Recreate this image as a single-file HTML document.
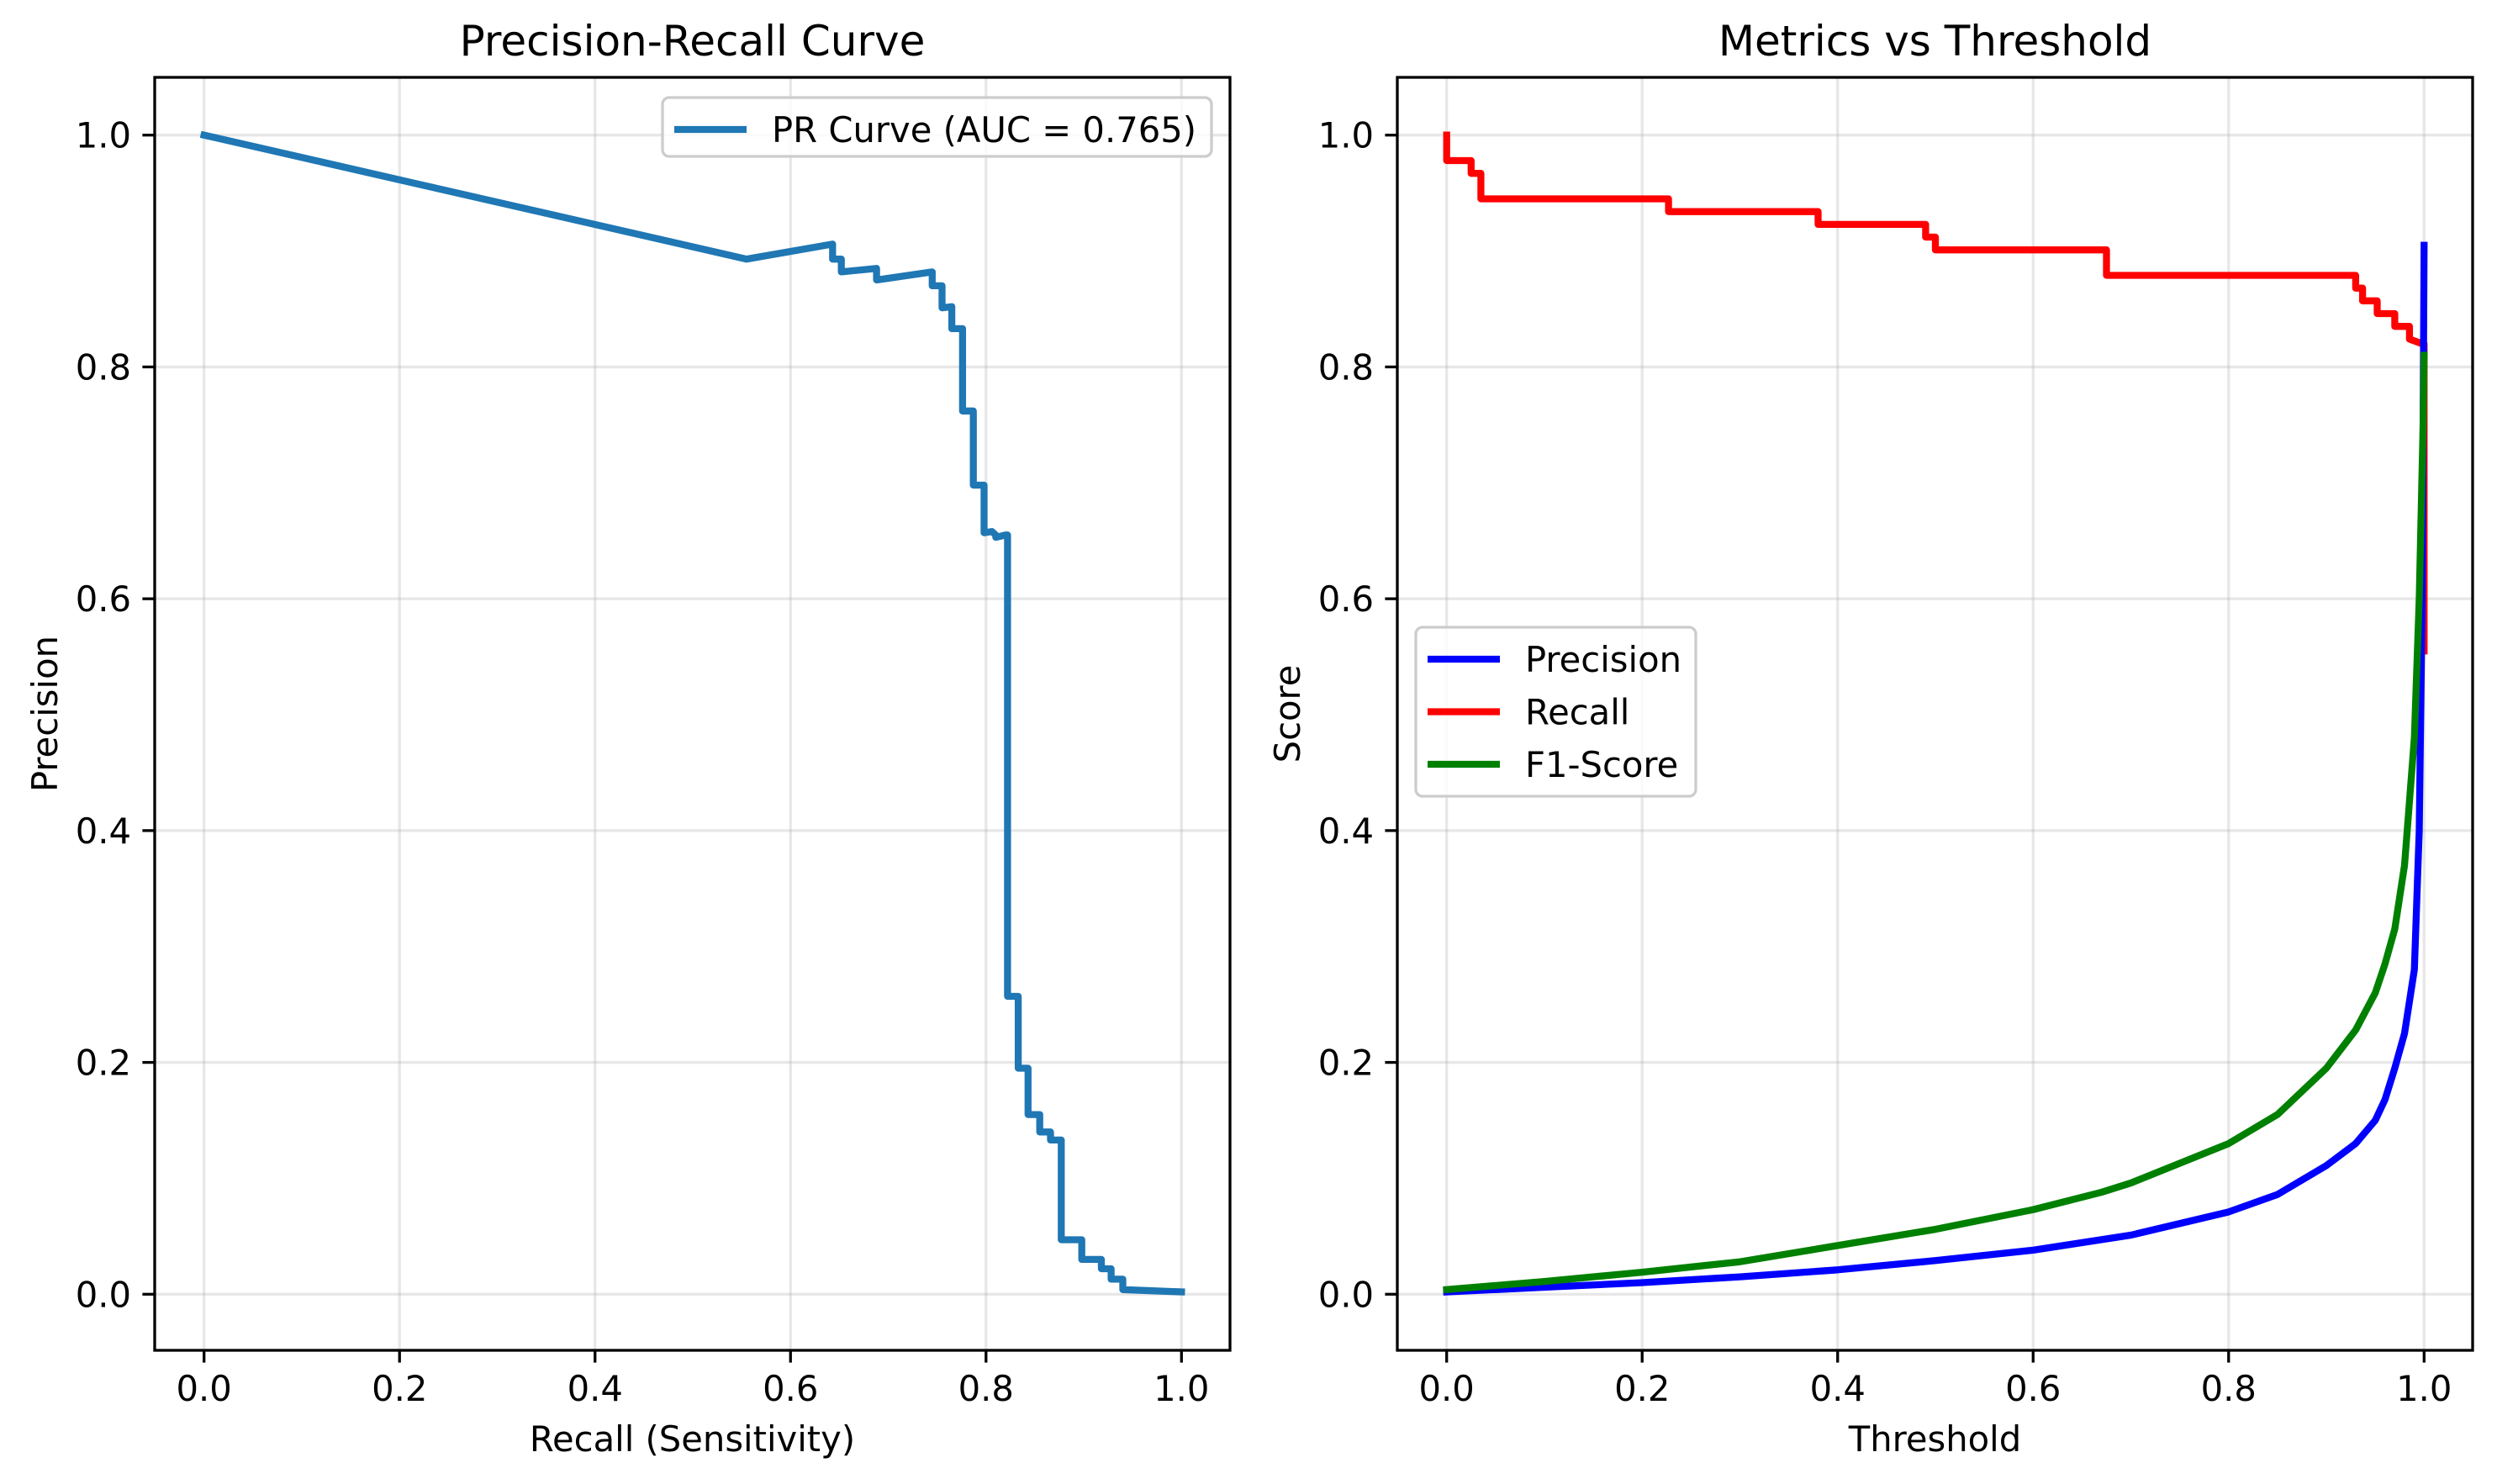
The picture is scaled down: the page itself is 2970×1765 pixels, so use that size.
<!DOCTYPE html>
<html><head><meta charset="utf-8"><style>
html,body{margin:0;padding:0;background:#fff;}
svg{display:block;font-family:"DejaVu Sans","Liberation Sans",sans-serif;}
</style></head><body>
<svg id="fig" width="2970" height="1765" viewBox="0 0 2970 1765" xmlns="http://www.w3.org/2000/svg">
<rect width="2970" height="1765" fill="#fff"/>
<g id="p1"></g>
<g id="p2"></g>
</svg>
<script>
const prRecall=[0,0.555,0.643,0.643,0.652,0.652,0.688,0.688,0.745,0.745,0.755,0.755,0.765,0.765,0.776,0.776,0.787,0.787,0.798,0.798,0.806,0.81,0.81,0.82,0.822,0.822,0.833,0.833,0.843,0.843,0.855,0.855,0.866,0.866,0.877,0.877,0.898,0.898,0.918,0.918,0.928,0.928,0.94,0.94,0.97,1.0];
const prPrecision=[1.0,0.893,0.906,0.893,0.893,0.882,0.885,0.875,0.882,0.870,0.870,0.851,0.852,0.833,0.833,0.762,0.762,0.698,0.698,0.657,0.658,0.655,0.653,0.655,0.655,0.257,0.257,0.195,0.195,0.155,0.155,0.140,0.140,0.133,0.133,0.047,0.047,0.030,0.030,0.022,0.022,0.013,0.013,0.004,0.003,0.002];
const recT=[0,0,0.025,0.025,0.035,0.035,0.227,0.227,0.38,0.38,0.49,0.49,0.5,0.5,0.675,0.675,0.93,0.93,0.937,0.937,0.952,0.952,0.97,0.97,0.985,0.985,0.998,1.0,1.0];
const recV=[1.0,0.978,0.978,0.967,0.967,0.945,0.945,0.934,0.934,0.923,0.923,0.912,0.912,0.901,0.901,0.879,0.879,0.868,0.868,0.857,0.857,0.846,0.846,0.835,0.835,0.824,0.82,0.82,0.555];
const precT=[0,0.1,0.2,0.3,0.4,0.5,0.6,0.7,0.8,0.85,0.9,0.93,0.95,0.96,0.97,0.98,0.99,0.995,0.998,1.0];
const precV=[0.002,0.006,0.010,0.015,0.021,0.029,0.038,0.051,0.071,0.086,0.111,0.130,0.150,0.168,0.195,0.225,0.28,0.40,0.60,0.905];
const f1T=[0,0.1,0.2,0.3,0.4,0.5,0.6,0.67,0.7,0.8,0.85,0.9,0.93,0.95,0.96,0.97,0.98,0.99,0.995,0.999,1.0];
const f1V=[0.004,0.011,0.019,0.028,0.042,0.056,0.073,0.088,0.096,0.130,0.155,0.195,0.228,0.26,0.285,0.315,0.37,0.48,0.60,0.75,0.81];
const ticks=[0,0.2,0.4,0.6,0.8,1.0];
const tickLabels=["0.0","0.2","0.4","0.6","0.8","1.0"];
const NS="http://www.w3.org/2000/svg";
function mk(p,tag,a,txt){const e=document.createElementNS(NS,tag);for(const k in a)e.setAttribute(k,a[k]);if(txt!==undefined)e.textContent=txt;p.appendChild(e);return e;}
function panel(g,L,title,xlab,ylab){
 const R=L+1279,T=92,B=1606;
 const sx=v=>L+58.7+v*1162.6, sy=v=>1539.3-v*1378.6;
 ticks.forEach((t,i)=>{
  let e=mk(g,'line',{x1:sx(t),x2:sx(t),y1:T,y2:B,stroke:'#b0b0b0','stroke-opacity':0.3,'stroke-width':3.3});
  
  e=mk(g,'line',{x1:L,x2:R,y1:sy(t),y2:sy(t),stroke:'#b0b0b0','stroke-opacity':0.3,'stroke-width':3.3});
  
  e=mk(g,'line',{x1:sx(t),x2:sx(t),y1:B,y2:B+14.6,stroke:'#000','stroke-width':3.3});
  
  e=mk(g,'text',{x:sx(t),y:B+60,'font-size':41.7,'text-anchor':'middle'},tickLabels[i]);
  
  e=mk(g,'line',{x1:L-14.6,x2:L,y1:sy(t),y2:sy(t),stroke:'#000','stroke-width':3.3});
  
  e=mk(g,'text',{x:L-28,y:sy(t)+15,'font-size':41.7,'text-anchor':'end'},tickLabels[i]);
  
 });
 let e=mk(g,'text',{x:(L+R)/2,y:66,'font-size':50,'text-anchor':'middle'},title);
 
 e=mk(g,'text',{x:(L+R)/2,y:1726,'font-size':41.7,'text-anchor':'middle'},xlab);
 
 e=mk(g,'text',{x:0,y:0,'font-size':41.7,'text-anchor':'middle',transform:`translate(${L-116},${(T+B)/2}) rotate(-90)`},ylab);
 
 return {sx,sy,L,R,T,B};
}
function line(g,xs,ys,ax,color,name){
 const pts=xs.map((x,i)=>ax.sx(x).toFixed(1)+','+ax.sy(ys[i]).toFixed(1)).join(' ');
 const e=mk(g,'polyline',{points:pts,fill:'none',stroke:color,'stroke-width':8.3,'stroke-linejoin':'round','stroke-linecap':'square'});
 
}
function frame(g,ax){
 const e=mk(g,'rect',{x:ax.L,y:ax.T,width:ax.R-ax.L,height:ax.B-ax.T,fill:'none',stroke:'#000','stroke-width':3.3});
 
}
function legend(g,x,y,w,h,items){
 const lg=mk(g,'g',{});
 
 mk(lg,'rect',{x,y,width:w,height:h,rx:8,fill:'#fff','fill-opacity':0.8,stroke:'#cccccc','stroke-width':3.3});
 items.forEach((it,i)=>{
  const cy=y+38+i*62.5;
  const en=mk(lg,'g',{});
  
  mk(en,'line',{x1:x+14,x2:x+100,y1:cy,y2:cy,stroke:it[1],'stroke-width':8.3});
  mk(en,'text',{x:x+130,y:cy+15,'font-size':41.7},it[0]);
 });
}
const g1=document.getElementById('p1'),g2=document.getElementById('p2');
const a1=panel(g1,184,'Precision-Recall Curve','Recall (Sensitivity)','Precision');
line(g1,prRecall,prPrecision,a1,'#1f77b4','pr-curve-line');
frame(g1,a1);
legend(g1,788,116,653,70,[['PR Curve (AUC = 0.765)','#1f77b4']]);
const a2=panel(g2,1662,'Metrics vs Threshold','Threshold','Score');
line(g2,recT,recV,a2,'#ff0000','recall-line');
line(g2,precT,precV,a2,'#0000ff','precision-line');
line(g2,f1T,f1V,a2,'#008000','f1-score-line');
frame(g2,a2);
legend(g2,1684,746,333,201,[['Precision','#0000ff'],['Recall','#ff0000'],['F1-Score','#008000']]);
</script>
</body></html>
